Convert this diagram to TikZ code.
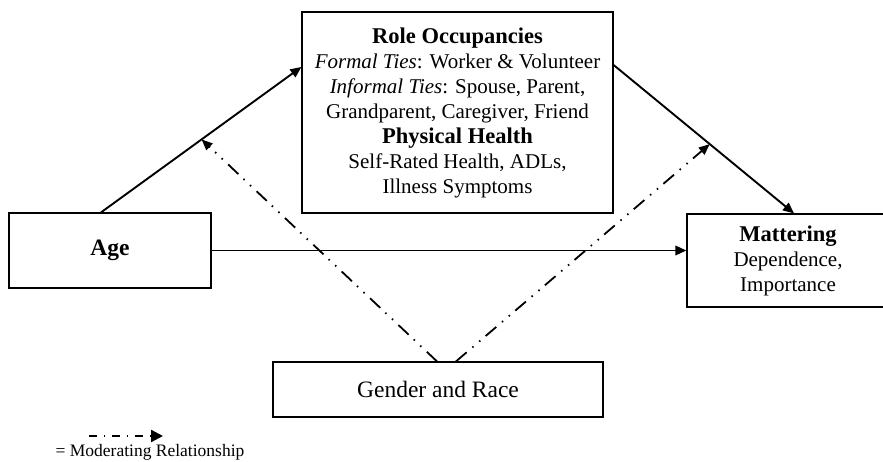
\documentclass[tikz,border=0pt]{standalone}
\usepackage{fontspec}
\setmainfont{Liberation Serif}
\usetikzlibrary{arrows.meta,positioning}

\tikzset{
  box/.style={draw=black, line width=1.2pt, rectangle, inner sep=0pt, align=center, text=black},
  bodytext/.style={font=\fontsize{21}{25}\selectfont},
  main/.style={line width=1.9pt, -{Triangle[length=11pt,width=9.5pt]}},
  moderator/.style={line width=1.8pt, line cap=butt,
    dash pattern=on 14pt off 7.5pt on 1.5pt off 7.5pt on 1.5pt off 7pt,
    -{Triangle[length=11pt,width=9pt]}},
  legendline/.style={line width=2.4pt, line cap=butt,
    dash pattern=on 7.5pt off 7pt on 1.5pt off 7pt,
    -{Triangle[length=12pt,width=12pt]}},
}
\newcommand{\headfont}{\fontsize{22.5}{25}\selectfont\bfseries}

\begin{document}
\begin{tikzpicture}[x=1pt,y=-1pt]
  \useasboundingbox (0,0) rectangle (883,462);

  % boxes
  \node[box, bodytext, minimum width=311pt, minimum height=201pt] (role) at (457.5,112.5)
    {{\headfont Role Occupancies}\\
     \textit{Formal Ties}: Worker \& Volunteer\\
     \textit{Informal Ties}: Spouse, Parent,\\
     Grandparent, Caregiver, Friend\\
     {\headfont Physical Health}\\
     Self-Rated Health, ADLs,\\
     Illness Symptoms};

  \node[box, minimum width=202pt, minimum height=75pt,
        font=\fontsize{23.5}{25}\selectfont\bfseries] (age) at (110,250.5) {Age};

  \node[box, bodytext, minimum width=202pt, minimum height=93pt] (matter) at (788,260.5)
    {{\headfont Mattering}\\ Dependence,\\ Importance};

  \node[box, minimum width=330pt, minimum height=55pt,
        font=\fontsize{23.5}{25}\selectfont] (gender) at (438,389.5) {Gender and Race};

  % direct paths
  \draw[main] ([xshift=-9pt]age.north) -- coordinate[pos=0.502] (hitA) ([yshift=45.5pt]role.west);
  \draw[main] ([yshift=47.5pt]role.east) -- coordinate[pos=0.533] (hitB) ([xshift=6pt]matter.north);
  \draw[main] (age.east) -- (matter.west |- age.east);

  % moderating paths
  \draw[moderator] ([xshift=-1pt]gender.north) -- (hitA);
  \draw[moderator] ([xshift=18pt]gender.north) -- (hitB);

  % legend
  \coordinate (legA) at (89,436);
  \coordinate (legB) at (163,436);
  \draw[legendline] (legA) -- (legB);
  \node[font=\fontsize{17.5}{20}\selectfont, inner sep=0pt] (legtxt) at (150,452)
    {= Moderating Relationship};
\end{tikzpicture}
\end{document}
